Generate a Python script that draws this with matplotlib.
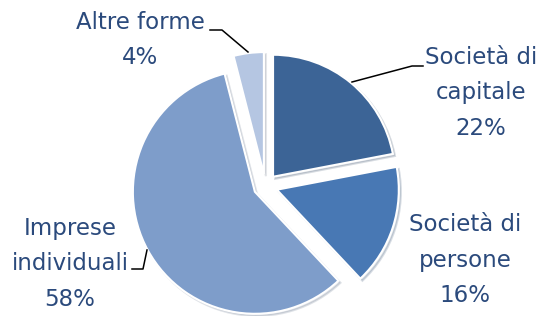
import numpy as np
import matplotlib
matplotlib.use('Agg')
import matplotlib.pyplot as plt

# data
labels = ['Società di\ncapitale', 'Società di\npersone', 'Imprese\nindividuali', 'Altre forme']
shares = [22, 16, 58, 4]
colors = ['#3C6496', '#4878B4', '#7E9DCA', '#B5C6E2']

W, H = 543, 316
fig = plt.figure(figsize=(W / 100, H / 100), dpi=100)
ax = fig.add_axes([0, 0, 1, 1])
ax.axis('off')

# pie in pixel-like data units
cx, cy, r = 265.4, H - 186, 122
wedges, _ = ax.pie(shares, colors=colors, startangle=90, counterclock=False,
                   center=(cx, cy), radius=r, explode=[12] * 4,
                   wedgeprops=dict(edgecolor='white', linewidth=1.5),
                   shadow=dict(ox=1.5, oy=-1.5, shade=0.4, alpha=0.18))
ax.set_xlim(0, W)
ax.set_ylim(0, H)
ax.set_aspect('equal')

txt_color = '#2B4A7C'
label_pos = [(481, 93), (465, 260), (70, 264), (140, 40)]
for lab, s, (x, y) in zip(labels, shares, label_pos):
    ax.text(x, H - y, '%s\n%d%%' % (lab, s), ha='center', va='center',
            multialignment='center', fontsize=16.5, color=txt_color,
            linespacing=1.67, family='DejaVu Sans')

# leader lines (image coords)
leaders = [
    [(423, 66), (412, 66), (352, 82)],
    [(132, 269), (143, 269), (147, 250)],
    [(210, 30), (222, 30), (248, 52)],
]
for pts in leaders:
    xs = [p[0] for p in pts]
    ys = [H - p[1] for p in pts]
    ax.plot(xs, ys, color='black', lw=1.1)

fig.savefig('out.png', dpi=100)
